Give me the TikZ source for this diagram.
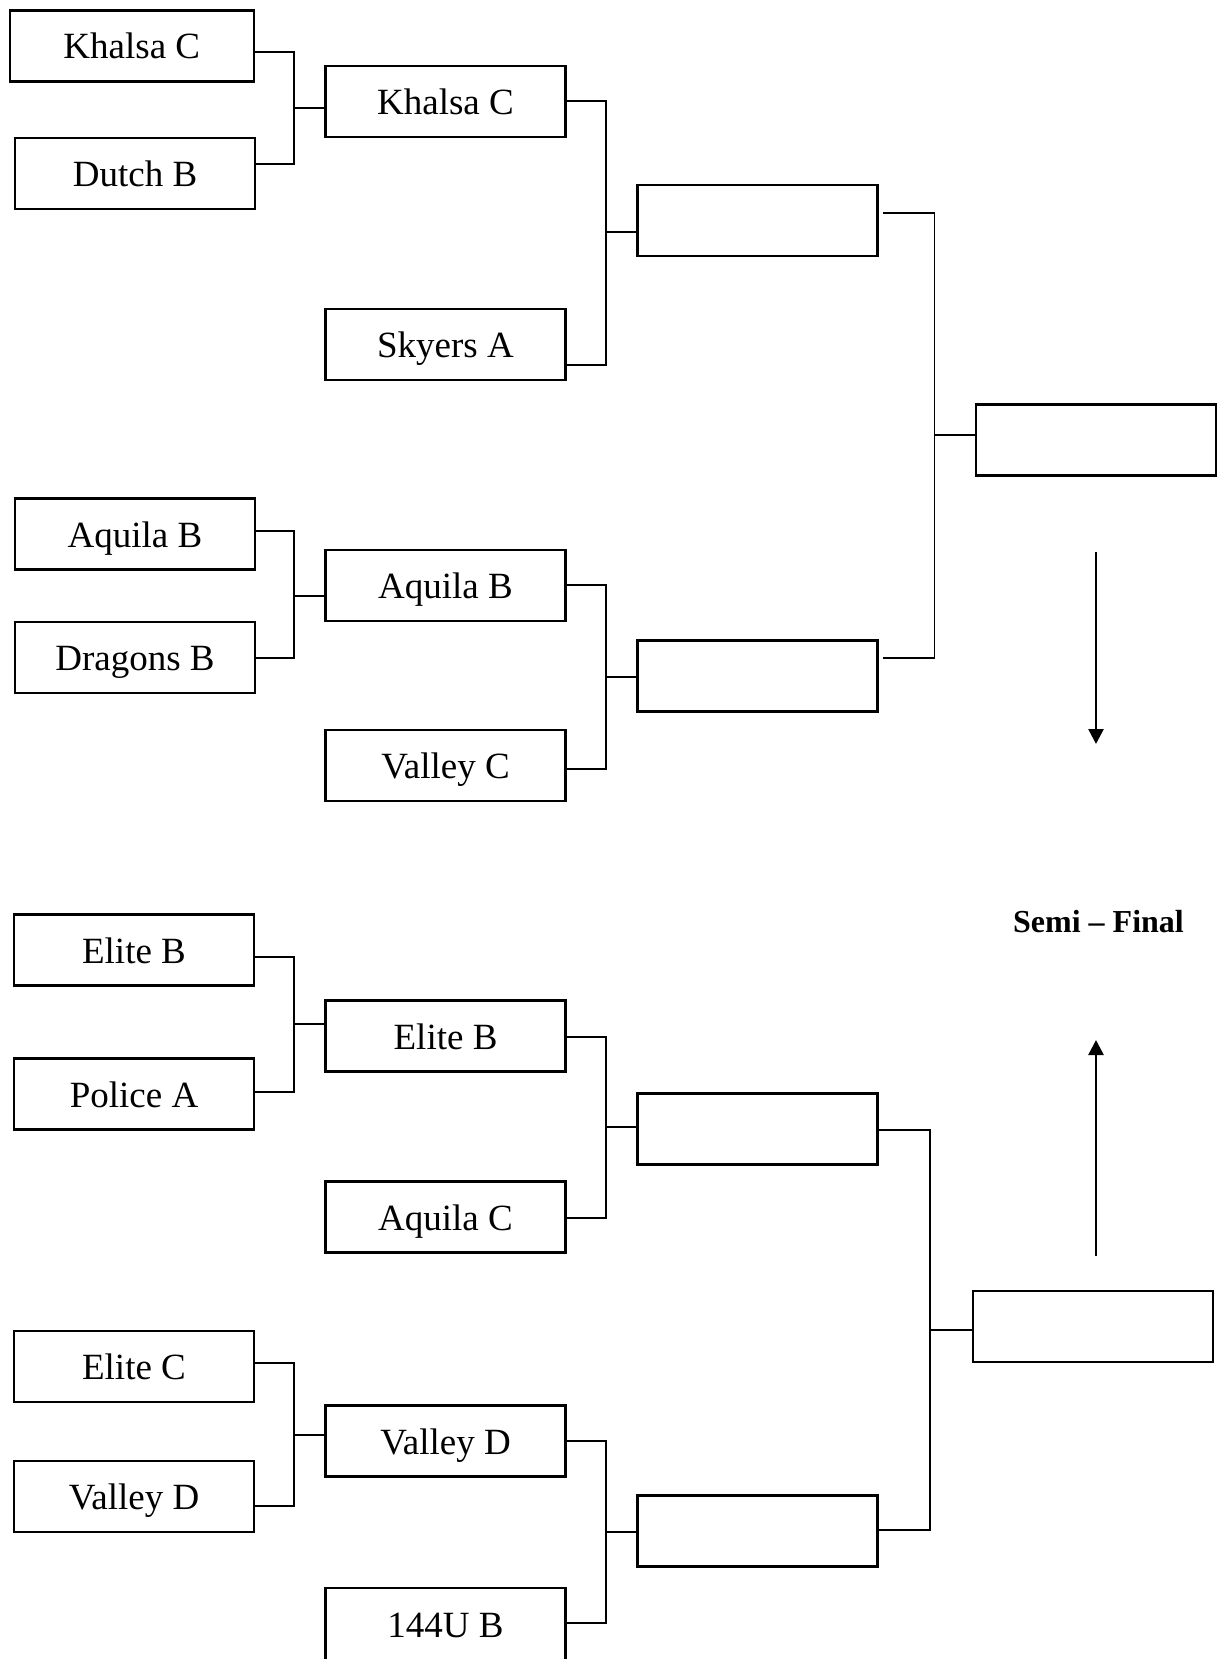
\documentclass[tikz,border=0pt]{standalone}
\usepackage{fontspec}
\setmainfont{Liberation Serif}
\usetikzlibrary{arrows.meta}
\tikzset{
  tbox/.style={draw, line width=2.1pt, inner sep=0pt, minimum width=240pt, minimum height=71pt,
    text height=26pt, text depth=0pt, font=\fontsize{37}{44}\selectfont},
  conn/.style={line width=1.9pt},
  bigarrow/.style={line width=2.6pt, -{Triangle[length=15pt,width=15pt]}},
  semi/.style={font=\fontsize{32}{38}\selectfont\bfseries, inner sep=0pt}
}
\begin{document}
\begin{tikzpicture}[x=1pt,y=-1pt]
\useasboundingbox (0,0) rectangle (1217,1659);
% round 1
\node[tbox, minimum width=244pt] (A1) at (131.8,46) {Khalsa C};
\node[tbox] (A2) at (135,173.5) {Dutch B};
\node[tbox] (A3) at (135,534) {Aquila B};
\node[tbox] (A4) at (135,657.5) {Dragons B};
\node[tbox] (A5) at (134,950) {Elite B};
\node[tbox] (A6) at (134,1094) {Police A};
\node[tbox] (A7) at (134,1366.5) {Elite C};
\node[tbox] (A8) at (134,1496.5) {Valley D};
% round 2
\node[tbox] (B1) at (445.5,101.6) {Khalsa C};
\node[tbox] (B2) at (445.5,344.5) {Skyers A};
\node[tbox] (B3) at (445.5,585.5) {Aquila B};
\node[tbox] (B4) at (445.5,765.5) {Valley C};
\node[tbox] (B5) at (445.5,1036) {Elite B};
\node[tbox] (B6) at (445.5,1217) {Aquila C};
\node[tbox] (B7) at (445.5,1441) {Valley D};
\node[tbox, minimum height=78pt] (B8) at (445.5,1627) {};
\node[font=\fontsize{37}{44}\selectfont, inner sep=0pt, text height=26pt, text depth=0pt] (B8t) at (445.5,1624) {144U B};
% round 3
\node[tbox] (C1) at (757.5,220.5) {};
\node[tbox] (C2) at (757.5,676) {};
\node[tbox] (C3) at (757.5,1129) {};
\node[tbox] (C4) at (757.5,1531) {};
% round 4
\node[tbox] (D1) at (1096.4,440) {};
\node[tbox] (D2) at (1093.3,1326.5) {};
% label
\node[semi] (SF) at (1098.5,922) {Semi -- Final};
\coordinate (ua) at (1096,552);
\coordinate (ub) at (1096,744);
\coordinate (la) at (1096,1256);
\coordinate (lb) at (1096,1040);
\draw[bigarrow] (ua) -- (ub);
\draw[bigarrow] (la) -- (lb);
% junctions
\coordinate (j1) at (294,108);
\coordinate (j2) at (606,232);
\coordinate (j3) at (294,596);
\coordinate (j4) at (606,677);
\coordinate (j5) at (294,1024);
\coordinate (j6) at (606,1127);
\coordinate (j7) at (294,1435);
\coordinate (j8) at (606,1532);
\coordinate (k1) at (934.5,435);
\coordinate (k2) at (930,1330);
% connectors round 1 -> 2
\draw[conn] ([yshift=-6pt]A1.east) -| (j1) |- ([yshift=9.5pt]A2.east);
\draw[conn] (j1) -- (j1 -| B1.west);
\draw[conn] ([yshift=3pt]A3.east) -| (j3) |- ([yshift=-0.5pt]A4.east);
\draw[conn] (j3) -- (j3 -| B3.west);
\draw[conn] ([yshift=-7pt]A5.east) -| (j5) |- ([yshift=2pt]A6.east);
\draw[conn] (j5) -- (j5 -| B5.west);
\draw[conn] ([yshift=3.5pt]A7.east) -| (j7) |- ([yshift=-9.5pt]A8.east);
\draw[conn] (j7) -- (j7 -| B7.west);
% round 2 -> 3
\draw[conn] ([yshift=1pt]B1.east) -| (j2) |- ([yshift=-20.5pt]B2.east);
\draw[conn] (j2) -- (j2 -| C1.west);
\draw[conn] ([yshift=0.5pt]B3.east) -| (j4) |- ([yshift=-3.5pt]B4.east);
\draw[conn] (j4) -- (j4 -| C2.west);
\draw[conn] ([yshift=-1pt]B5.east) -| (j6) |- ([yshift=-1pt]B6.east);
\draw[conn] (j6) -- (j6 -| C3.west);
\draw[conn] (B7.east) -| (j8) |- ([yshift=4pt]B8.east);
\draw[conn] (j8) -- (j8 -| C4.west);
% round 3 -> 4
\draw[conn] ([xshift=4.5pt,yshift=7.8pt]C1.east) -| (k1) |- ([xshift=4.5pt,yshift=18pt]C2.east);
\draw[conn] (k1) -- (k1 -| D1.west);
\draw[conn] ([yshift=-1pt]C3.east) -| (k2) |- ([yshift=1.4pt]C4.east);
\draw[conn] (k2) -- (k2 -| D2.west);
\end{tikzpicture}
\end{document}
